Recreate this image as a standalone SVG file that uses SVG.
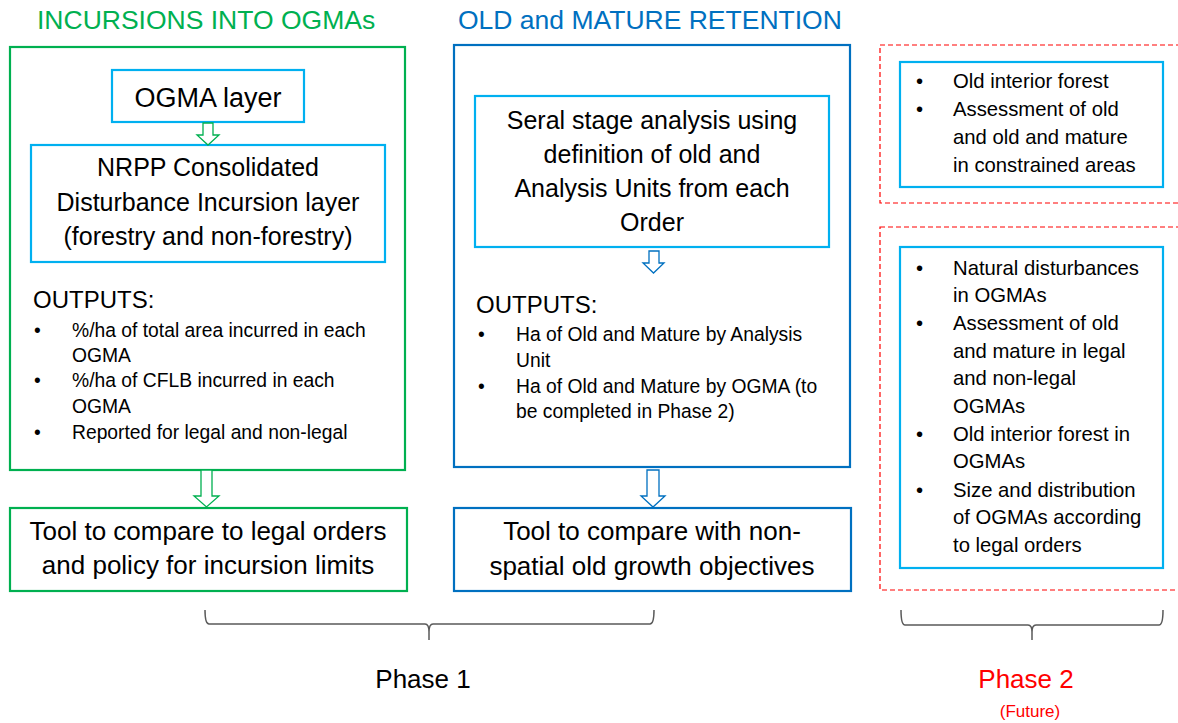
<svg xmlns="http://www.w3.org/2000/svg" width="1178" height="723" viewBox="0 0 1178 723">
  <style>
    text { font-family: "Liberation Sans", Arial, sans-serif; fill: #000; }
    .title { font-size: 26.5px; }
    .green { fill: #00b050; }
    .blue { fill: #0070c0; }
    .red { fill: #ff0000; }
    .big { font-size: 26px; }
    .mid { font-size: 25px; }
    .label { font-size: 24px; }
    .small { font-size: 19.3px; }
    .side { font-size: 20.3px; }
    .c { text-anchor: middle; }
    .panel-g { fill: #fff; stroke: #00b050; stroke-width: 2.2; }
    .panel-b { fill: #fff; stroke: #0070c0; stroke-width: 2.2; }
    .inner { fill: #fff; stroke: #00b0f0; stroke-width: 2.2; }
    .dash { fill: none; stroke: #ff0000; stroke-width: 1.2; stroke-dasharray: 5 3; }
    .arrow-g { fill: #fff; stroke: #00b050; stroke-width: 1.3; }
    .arrow-b { fill: #fff; stroke: #0070c0; stroke-width: 1.3; }
    .brace { fill: none; stroke: #595959; stroke-width: 1.5; }
  </style>

  <rect width="1178" height="723" fill="#fff"/>

  <!-- column headings -->
  <text class="title green" x="37" y="29">INCURSIONS INTO OGMAs</text>
  <text class="title blue" x="458" y="29">OLD and MATURE RETENTION</text>

  <!-- incursions panel -->
  <g id="incursions-panel">
    <rect class="panel-g" x="10" y="47" width="395" height="423"/>
    <text class="label" x="33" y="308">OUTPUTS:</text>
    <g class="small">
      <text x="34" y="337">•</text>
      <text x="72" y="337">%/ha of total area incurred in each</text>
      <text x="72" y="362">OGMA</text>
      <text x="34" y="387">•</text>
      <text x="72" y="387">%/ha of CFLB incurred in each</text>
      <text x="72" y="413">OGMA</text>
      <text x="34" y="439">•</text>
      <text x="72" y="439">Reported for legal and non-legal</text>
    </g>
  </g>

  <g id="ogma-layer">
    <rect class="inner" x="112" y="70" width="192" height="52"/>
    <text class="c" x="208" y="107" font-size="27">OGMA layer</text>
  </g>

  <g id="nrpp-layer">
    <rect class="inner" x="31" y="145" width="354" height="117"/>
    <text class="mid c" x="208" y="176">NRPP Consolidated</text>
    <text class="mid c" x="208" y="211">Disturbance Incursion layer</text>
    <text class="mid c" x="208" y="245">(forestry and non-forestry)</text>
  </g>

  <g id="incursion-tool">
    <rect class="panel-g" x="10" y="508" width="397" height="83"/>
    <text class="big c" x="208" y="540">Tool to compare to legal orders</text>
    <text class="big c" x="208" y="574">and policy for incursion limits</text>
  </g>

  <!-- retention panel -->
  <g id="retention-panel">
    <rect class="panel-b" x="454" y="45" width="396" height="422"/>
    <text class="label" x="476" y="313">OUTPUTS:</text>
    <g class="small">
      <text x="478" y="341">•</text>
      <text x="516" y="341">Ha of Old and Mature by Analysis</text>
      <text x="516" y="367">Unit</text>
      <text x="478" y="393">•</text>
      <text x="516" y="393">Ha of Old and Mature by OGMA (to</text>
      <text x="516" y="418">be completed in Phase 2)</text>
    </g>
  </g>

  <g id="seral-analysis">
    <rect class="inner" x="475" y="96" width="354" height="151"/>
    <text class="mid c" x="652" y="129">Seral stage analysis using</text>
    <text class="mid c" x="652" y="163">definition of old and</text>
    <text class="mid c" x="652" y="197">Analysis Units from each</text>
    <text class="mid c" x="652" y="231">Order</text>
  </g>

  <g id="retention-tool">
    <rect class="panel-b" x="454" y="508" width="397" height="83"/>
    <text class="big c" x="652" y="540">Tool to compare with non-</text>
    <text class="big c" x="652" y="575">spatial old growth objectives</text>
  </g>

  <!-- future work -->
  <g id="future-a">
    <rect class="dash" x="880" y="45" width="310" height="158"/>
    <rect class="inner" x="900" y="62" width="263" height="125"/>
    <g class="side">
      <text x="916" y="88">•</text>
      <text x="953" y="88">Old interior forest</text>
      <text x="916" y="116">•</text>
      <text x="953" y="116">Assessment of old</text>
      <text x="953" y="144">and old and mature</text>
      <text x="953" y="172">in constrained areas</text>
    </g>
  </g>

  <g id="future-b">
    <rect class="dash" x="880" y="227" width="310" height="363"/>
    <rect class="inner" x="900" y="247" width="263" height="321"/>
    <g class="side">
      <text x="916" y="275">•</text>
      <text x="953" y="275">Natural disturbances</text>
      <text x="953" y="302">in OGMAs</text>
      <text x="916" y="330">•</text>
      <text x="953" y="330">Assessment of old</text>
      <text x="953" y="358">and mature in legal</text>
      <text x="953" y="385">and non-legal</text>
      <text x="953" y="413">OGMAs</text>
      <text x="916" y="441">•</text>
      <text x="953" y="441">Old interior forest in</text>
      <text x="953" y="468">OGMAs</text>
      <text x="916" y="497">•</text>
      <text x="953" y="497">Size and distribution</text>
      <text x="953" y="524">of OGMAs according</text>
      <text x="953" y="552">to legal orders</text>
    </g>
  </g>

  <!-- hollow block arrows -->
  <g id="connectors">
    <polygon class="arrow-g" points="203,123 213,123 213,135 219,135 208,145 197,135 203,135"/>
    <polygon class="arrow-g" points="201,470 212,470 212,496 219,496 206.5,507 194,496 201,496"/>
    <polygon class="arrow-b" points="649,251 659,251 659,263 664,263 653.5,273 643,263 649,263"/>
    <polygon class="arrow-b" points="647,470 659,470 659,496 665,496 653,507 641,496 647,496"/>
  </g>

  <!-- phase braces -->
  <g id="phase-1">
    <path class="brace" d="M205,610 Q205,624 209,624 L425,624 Q429,624 429,632 L429,640 M429,632 Q429,624 433,624 L650,624 Q654,624 654,610"/>
    <text class="c" x="423" y="688" font-size="26">Phase 1</text>
  </g>

  <g id="phase-2">
    <path class="brace" d="M901,610 Q901,625 905,625 L1028,625 Q1032,625 1032,632 L1032,640 M1032,632 Q1032,625 1036,625 L1159,625 Q1163,625 1163,610"/>
    <text class="red c" x="1026" y="688" font-size="26">Phase 2</text>
    <text class="red c" x="1030" y="717" font-size="17">(Future)</text>
  </g>
</svg>
